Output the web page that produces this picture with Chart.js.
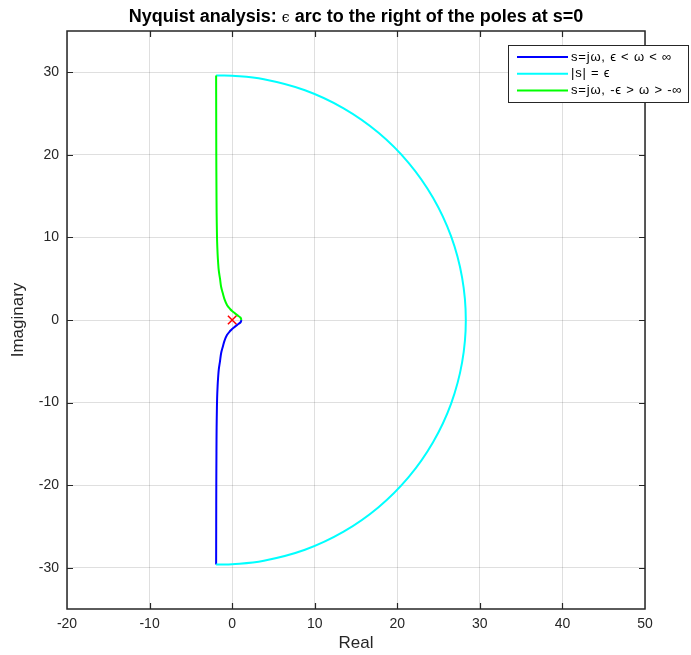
<!DOCTYPE html>
<html><head><meta charset="utf-8">
<script src="https://cdn.jsdelivr.net/npm/chart.js@4.4.0/dist/chart.umd.min.js"></script>
<style>html,body{margin:0;padding:0;background:#fff}canvas{display:block}</style>
</head><body>
<canvas id="c" width="691" height="655"></canvas>
<script>
// ---- text ----
const titleParts = ['Nyquist analysis: ', 'ϵ', ' arc to the right of the poles at s=0'];
const xAxisLabel = 'Real';
const yAxisLabel = 'Imaginary';
const seriesLabels = ['s=jω, ϵ < ω < ∞', '|s| = ϵ', 's=jω, -ϵ > ω > -∞'];

// ---- ticks ----
const xTicks = [-20, -10, 0, 10, 20, 30, 40, 50];
const yTicks = [-30, -20, -10, 0, 10, 20, 30];

// ---- data ----
// blue: s=jw, eps < w < inf
const blueRe = [-1.94, -1.93, -1.92, -1.90, -1.88, -1.85, -1.82, -1.76, -1.70, -1.62, -1.47, -1.33, -1.12, -0.92, -0.61, -0.22, 0.0, 0.35, 0.61, 1.0, 1.13];
const blueIm = [-29.6, -25, -20, -16, -13, -11, -9.5, -8, -7, -6, -5, -4, -3.2, -2.5, -1.8, -1.3, -1.08, -0.8, -0.59, -0.3, 0];
// cyan: |s| = eps arc
const arcRe = [-1.94, 0, 3.84, 8.82, 13.5, 17.73, 21.37, 24.33, 26.52, 27.85, 28.3, 27.85, 26.52, 24.33, 21.37, 17.73, 13.5, 8.82, 3.84, 0, -1.94];
const arcIm = [29.6, 29.57, 29.15, 27.82, 25.63, 22.67, 19.03, 14.8, 10.12, 5.14, 0, -5.14, -10.12, -14.8, -19.03, -22.67, -25.63, -27.82, -29.15, -29.57, -29.6];
// green: s=jw, -eps > w > -inf
const greenRe = [-1.94, -1.93, -1.92, -1.90, -1.88, -1.85, -1.82, -1.76, -1.70, -1.62, -1.47, -1.33, -1.12, -0.92, -0.61, -0.22, 0.0, 0.35, 0.61, 1.0, 1.13];
const greenIm = [29.6, 25, 20, 16, 13, 11, 9.5, 8, 7, 6, 5, 4, 3.2, 2.5, 1.8, 1.3, 1.08, 0.8, 0.59, 0.3, 0];
// red cross
const markRe = [0];
const markIm = [0];

const seriesColors = ['#0000ff', '#00ffff', '#00ff00'];

const pts = (xs, ys) => xs.map((v, i) => ({x: v, y: ys[i]}));
const FONT = 'Liberation Sans, Arial, Helvetica, sans-serif';
const INK = '#262626';

const decor = {
  id: 'decor',
  afterDraw(chart) {
    const {ctx, chartArea: a, scales: {x, y}} = chart;
    ctx.save();
    // box
    ctx.strokeStyle = INK;
    ctx.lineWidth = 1.5;
    ctx.strokeRect(a.left, a.top, a.right - a.left, a.bottom - a.top);
    // inward ticks on all sides
    ctx.lineWidth = 1.2;
    ctx.beginPath();
    xTicks.forEach(v => {
      const p = Math.round(x.getPixelForValue(v)) + 0.5;
      if (p <= a.left + 1 || p >= a.right - 1) return;
      ctx.moveTo(p, a.bottom); ctx.lineTo(p, a.bottom - 6);
      ctx.moveTo(p, a.top); ctx.lineTo(p, a.top + 6);
    });
    yTicks.forEach(v => {
      const p = Math.round(y.getPixelForValue(v)) + 0.5;
      if (p <= a.top + 1 || p >= a.bottom - 1) return;
      ctx.moveTo(a.left, p); ctx.lineTo(a.left + 6, p);
      ctx.moveTo(a.right, p); ctx.lineTo(a.right - 6, p);
    });
    ctx.stroke();

    // title (mixed bold / normal)
    ctx.fillStyle = '#000';
    ctx.textBaseline = 'alphabetic';
    ctx.textAlign = 'left';
    const fBold = 'bold 18px ' + FONT;
    const fSym = '14px DejaVu Serif, serif';
    const fonts = [fBold, fSym, fBold];
    let widths = titleParts.map((t, i) => { ctx.font = fonts[i]; return ctx.measureText(t).width; });
    let total = widths.reduce((s, w) => s + w, 0);
    let tx = (a.left + a.right) / 2 - total / 2;
    titleParts.forEach((t, i) => { ctx.font = fonts[i]; ctx.fillText(t, tx, 22); tx += widths[i]; });

    // legend
    const lx = 508, ly = 45, lw = 180, lh = 57;
    ctx.fillStyle = '#fff';
    ctx.fillRect(lx, ly, lw, lh);
    ctx.strokeStyle = INK;
    ctx.lineWidth = 1;
    ctx.strokeRect(lx + 0.5, ly + 0.5, lw, lh);
    ctx.font = '13px ' + FONT;
    ctx.textBaseline = 'middle';
    try { ctx.letterSpacing = '0.8px'; } catch (e) {}
    seriesLabels.forEach((t, i) => {
      const yy = ly + 12 + i * 16.7;
      ctx.strokeStyle = seriesColors[i];
      ctx.lineWidth = 2;
      ctx.beginPath(); ctx.moveTo(lx + 9, yy); ctx.lineTo(lx + 60, yy); ctx.stroke();
      ctx.fillStyle = '#000';
      ctx.fillText(t, lx + 63, yy);
    });
    ctx.restore();
  }
};

const gridOpts = {color: 'rgba(38,38,38,0.15)', lineWidth: 1, drawTicks: false};

new Chart(document.getElementById('c'), {
  type: 'scatter',
  data: {
    datasets: [
      {label: 'mark', data: pts(markRe, markIm), showLine: false, pointStyle: 'crossRot', pointRadius: 6, borderColor: '#ff0000', borderWidth: 1.5, order: 0},
      {label: seriesLabels[2], data: pts(greenRe, greenIm), showLine: true, borderColor: seriesColors[2], borderWidth: 2, pointRadius: 0, tension: 0.35, order: 1},
      {label: seriesLabels[1], data: pts(arcRe, arcIm), showLine: true, borderColor: seriesColors[1], borderWidth: 2, pointRadius: 0, tension: 0.4, order: 2},
      {label: seriesLabels[0], data: pts(blueRe, blueIm), showLine: true, borderColor: seriesColors[0], borderWidth: 2, pointRadius: 0, tension: 0.35, order: 3}
    ]
  },
  options: {
    responsive: false,
    animation: false,
    devicePixelRatio: 1,
    layout: {padding: {top: 31, right: 46, left: 0, bottom: 0}},
    plugins: {legend: {display: false}, title: {display: false}, tooltip: {enabled: false}},
    scales: {
      x: {
        type: 'linear', min: -20, max: 50,
        afterBuildTicks: s => { s.ticks = xTicks.map(v => ({value: v})); },
        afterFit: s => { s.height = 46; },
        grid: gridOpts,
        border: {display: false},
        ticks: {font: {family: FONT, size: 14}, color: INK, padding: 7, maxRotation: 0, autoSkip: false},
        title: {display: true, text: xAxisLabel, font: {family: FONT, size: 17}, color: INK, padding: {top: 0, bottom: 1}}
      },
      y: {
        type: 'linear', min: -35, max: 35,
        afterBuildTicks: s => { s.ticks = yTicks.map(v => ({value: v})); },
        afterFit: s => { s.width = 67; },
        grid: gridOpts,
        border: {display: false},
        ticks: {font: {family: FONT, size: 14}, color: INK, padding: 8, autoSkip: false},
        title: {display: true, text: yAxisLabel, font: {family: FONT, size: 17}, color: INK, padding: {top: 8, bottom: 0}}
      }
    }
  },
  plugins: [decor]
});
</script>
</body></html>
